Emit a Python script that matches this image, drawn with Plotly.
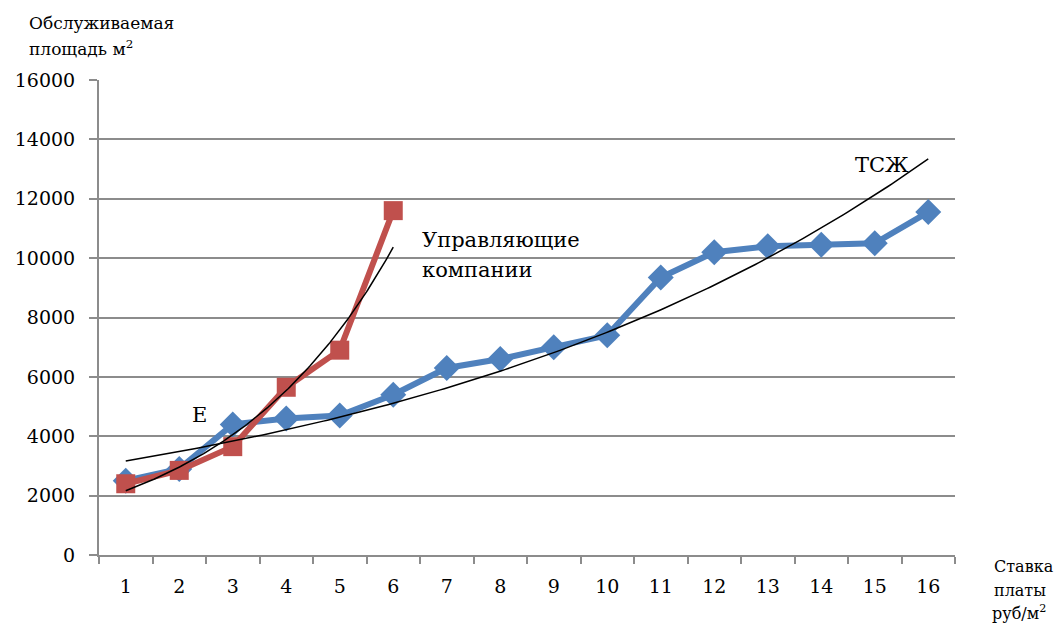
import numpy as np
import plotly.graph_objects as go

# Rate of payment, rub/m2 (category positions 1..16)
rates = list(range(1, 17))

# Serviced area, m2 — homeowners' associations (ТСЖ)
tszh_area = [2500, 2900, 4400, 4600, 4700, 5400, 6300, 6600, 7000, 7400,
             9350, 10200, 10400, 10450, 10500, 11550]

# Serviced area, m2 — management companies
uk_rates = [1, 2, 3, 4, 5, 6]
uk_area = [2400, 2850, 3650, 5650, 6900, 11600]

y_ticks = [0, 2000, 4000, 6000, 8000, 10000, 12000, 14000, 16000]

BLUE = "#4F81BD"
RED = "#C0504D"
GRID = "#8C8C8C"
FONT = "DejaVu Serif"


def exp_trend(xs, ys, n=200):
    """Exponential least-squares fit y = a*exp(b*x), like a spreadsheet trendline."""
    b, ln_a = np.polyfit(np.array(xs, float), np.log(np.array(ys, float)), 1)
    xx = np.linspace(min(xs), max(xs), n)
    return xx, np.exp(ln_a) * np.exp(b * xx)


fig = go.Figure()

fig.add_trace(go.Scatter(
    x=rates, y=tszh_area, mode="lines+markers",
    line=dict(color=BLUE, width=6),
    marker=dict(symbol="diamond", size=20, color=BLUE),
    showlegend=False,
))
fig.add_trace(go.Scatter(
    x=uk_rates, y=uk_area, mode="lines+markers",
    line=dict(color=RED, width=6),
    marker=dict(symbol="square", size=19, color=RED),
    showlegend=False,
))

tx, ty = exp_trend(rates, tszh_area)
fig.add_trace(go.Scatter(x=tx, y=ty, mode="lines",
                         line=dict(color="black", width=1.5), showlegend=False))
ux, uy = exp_trend(uk_rates, uk_area)
fig.add_trace(go.Scatter(x=ux, y=uy, mode="lines",
                         line=dict(color="black", width=1.5), showlegend=False))

fig.update_layout(
    width=1055, height=623,
    margin=dict(l=99, r=100, t=80, b=68),
    paper_bgcolor="white", plot_bgcolor="white",
    font=dict(family=FONT, color="black"),
)

fig.update_xaxes(
    range=[0.5, 16.5], tickvals=rates, ticktext=[str(r) for r in rates],
    ticks="", showgrid=False, zeroline=False, automargin=False,
    showline=True, linecolor=GRID, linewidth=2,
    tickfont=dict(family=FONT, size=19, color="black"),
    ticklabelstandoff=13,
    minor=dict(tickvals=[r + 0.5 for r in range(0, 17)], ticks="outside",
               ticklen=7, tickcolor=GRID, tickwidth=2, showgrid=False),
)
fig.update_yaxes(
    range=[0, 16000], tickvals=y_ticks, ticktext=[str(v) for v in y_ticks],
    ticks="outside", ticklen=8, tickcolor=GRID, tickwidth=2,
    showgrid=True, gridcolor=GRID, gridwidth=1.5, zeroline=False,
    showline=True, linecolor=GRID, linewidth=2, automargin=False,
    tickfont=dict(family=FONT, size=19, color="black"),
    ticklabelstandoff=10,
)

ann_font = dict(family=FONT, size=21, color="black")
small_font = dict(family=FONT, size=17, color="black")
corner_font = dict(family=FONT, size=16, color="black")

# Series labels in data coordinates
for text, x, y in [("Управляющие", 6.5, 10600), ("компании", 6.5, 9600),
                   ("Е", 2.2, 4720), ("ТСЖ", 14.6, 13150)]:
    fig.add_annotation(x=x, y=y, xref="x", yref="y", text=text,
                       showarrow=False, xanchor="left", yanchor="middle",
                       font=ann_font)


def px(xp, yp):
    """Convert a pixel position on the page to paper coordinates."""
    return (xp - 99) / (1055 - 99 - 100), 1 - (yp - 80) / (623 - 80 - 68)


# Axis captions
for text, xp, yp, f in [("Обслуживаемая", 27, 23, small_font),
                        ("площадь м<sup>2</sup>", 27, 48, small_font),
                        ("Ставка", 992, 566, corner_font),
                        ("платы", 992, 590, corner_font),
                        ("руб/м<sup>2</sup>", 990, 612, corner_font)]:
    x, y = px(xp, yp)
    fig.add_annotation(x=x, y=y, xref="paper", yref="paper", text=text,
                       showarrow=False, xanchor="left", yanchor="middle",
                       font=f)

fig.write_html("out.html")
